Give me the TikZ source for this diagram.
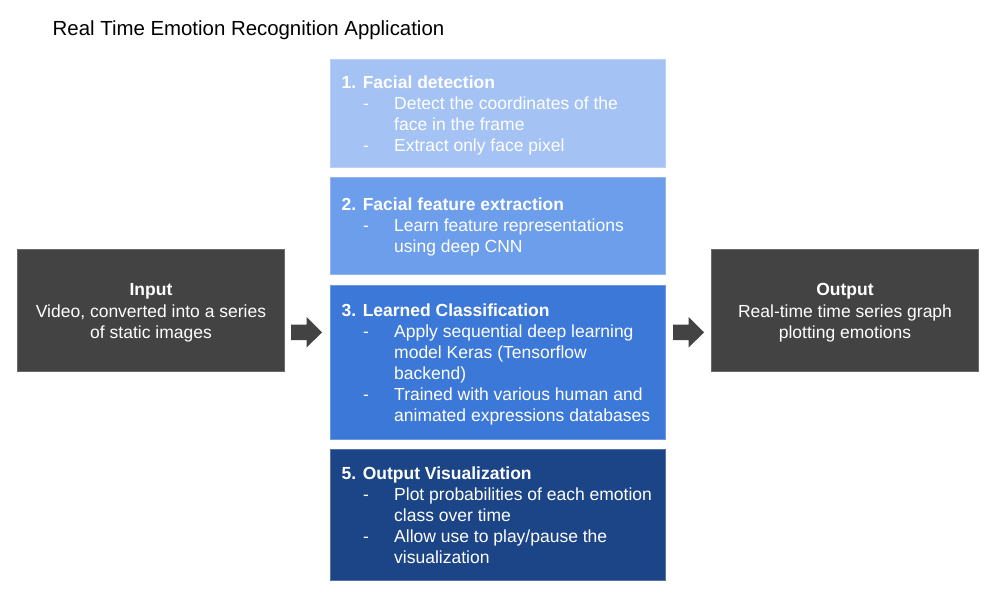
\documentclass[tikz,border=0pt]{standalone}
\usepackage{fontspec}
\setmainfont{Liberation Sans}
\definecolor{cA}{HTML}{A4C2F4}
\definecolor{cB}{HTML}{6D9EEB}
\definecolor{cC}{HTML}{3C78D8}
\definecolor{cD}{HTML}{1C4587}
\definecolor{cG}{HTML}{434343}
\tikzset{
  panel/.style={rectangle, inner sep=0pt, anchor=north west, line width=1bp},
  txt/.style={inner sep=0pt, text=white, font=\fontsize{17.5bp}{21bp}\selectfont},
  shapearrow/.style={fill=cG, draw=none}
}
\newcommand{\dl}{\makebox[52.5bp][l]{\hspace{21.5bp}-}}
\newcommand{\il}{\hspace*{52.5bp}}
\begin{document}
\begin{tikzpicture}[x=1bp,y=-1bp]
\useasboundingbox[fill=white] (0,0) rectangle (994,602);
\node[inner sep=0pt, anchor=base west, font=\fontsize{20.4bp}{24bp}\selectfont] (title) at (52.5,35.5) {Real Time Emotion Recognition Application};
% panels
\node[panel, fill=cA, draw=cA!75!white, minimum width=335bp, minimum height=108bp] (b1) at (330,59) {};
\node[panel, fill=cB, draw=cB!75!white, minimum width=335bp, minimum height=97bp] (b2) at (330,177) {};
\node[panel, fill=cC, draw=cC!75!white, minimum width=335bp, minimum height=154bp] (b3) at (330,285) {};
\node[panel, fill=cD, draw=cD!75!white, minimum width=335bp, minimum height=131bp] (b5) at (330,449) {};
\node[panel, fill=cG, draw=cG!80!white, minimum width=267bp, minimum height=122bp] (in) at (17,249) {};
\node[panel, fill=cG, draw=cG!80!white, minimum width=267bp, minimum height=122bp] (out) at (711,249) {};
% texts (base anchor = baseline of last line)
\node[txt, align=left, anchor=base west] (t1) at (341.5,151.3) {\textbf{1. Facial detection}\\\dl Detect the coordinates of the\\\il face in the frame\\\dl Extract only face pixel};
\node[txt, align=left, anchor=base west] (t2) at (341.5,253) {\textbf{2. Facial feature extraction}\\\dl Learn feature representations\\\il using deep CNN};
\node[txt, align=left, anchor=base west] (t3) at (341.5,421) {\textbf{3. Learned Classification}\\\dl Apply sequential deep learning\\\il model Keras (Tensorflow\\\il backend)\\\dl Trained with various human and\\\il animated expressions databases};
\node[txt, align=left, anchor=base west] (t5) at (341.5,563.3) {\textbf{5. Output Visualization}\\\dl Plot probabilities of each emotion\\\il class over time\\\dl Allow use to play/pause the\\\il visualization};
\node[txt, align=center, anchor=base] (tin) at (in.center |- 0,338) {\textbf{Input}\\Video, converted into a series\\of static images};
\node[txt, align=center, anchor=base] (tout) at (out.center |- 0,338) {\textbf{Output}\\Real-time time series graph\\plotting emotions};
% block arrows
\coordinate (a1) at (291,316);
\coordinate (a2) at (673,316);
\foreach \c in {a1,a2}{
  \fill[shapearrow] ([yshift=-8.5bp]\c) -- ++(15.5,0) -- ++(0,-7.5) -- ++(15.5,15.5) -- ++(-15.5,15) -- ++(0,-7.5) -- ++(-15.5,0) -- cycle;
}
\end{tikzpicture}
\end{document}
